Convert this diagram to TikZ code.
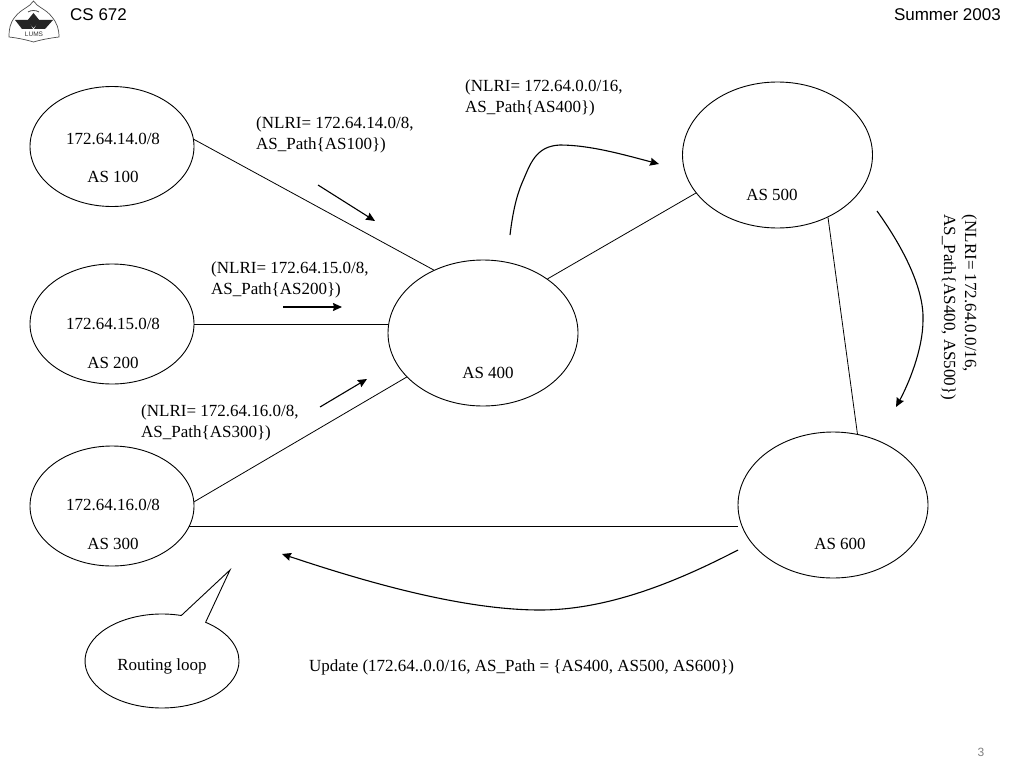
\documentclass[tikz,border=0pt]{standalone}
\usepackage{fontspec}
\setmainfont{Liberation Serif}
\setsansfont{Liberation Sans}
\usetikzlibrary{arrows.meta,shapes.geometric,shapes.callouts}
\tikzset{
  asbig/.style={draw,ellipse,line width=0.9pt,inner sep=0pt,minimum width=190pt,minimum height=146pt},
  assmall/.style={draw,ellipse,line width=0.9pt,inner sep=0pt,minimum width=164pt,minimum height=120pt},
  link/.style={line width=0.8pt},
  flow/.style={line width=1.1pt,-{Stealth[length=9pt,width=8pt,inset=1pt]}},
  msg/.style={align=left,anchor=north west,inner sep=0pt,font=\fontsize{17}{21}\selectfont},
  lbl/.style={inner sep=0pt,font=\fontsize{17}{19}\selectfont},
  head/.style={inner sep=0pt,font=\sffamily\fontsize{17}{19}\selectfont},
}
\begin{document}
\begin{tikzpicture}[x=1pt,y=-1pt]
\useasboundingbox (0,0) rectangle (1024,768);
% header
\draw[black!70,line width=0.7pt] (33.5,1) .. controls (30,7) and (21,9) .. (15,17) .. controls (10,23) and (9,29) .. (9,37) .. controls (18,38) and (27,40) .. (33.5,42) .. controls (40,40) and (50,38) .. (59,37) .. controls (59,29) and (57,23) .. (52,17) .. controls (46,9) and (37,7) .. (33.5,1) -- cycle;
\fill[black!85] (15,20) -- (28,20) -- (33,29) -- (22,29) -- cycle;
\fill[black!85] (53,20) -- (39,20) -- (34,29) -- (45,29) -- cycle;
\fill[black!85] (33.5,13) -- (40,21) -- (33.5,28) -- (27,21) -- cycle;
\draw[black!70,line width=0.8pt] (28,12) .. controls (31,10) and (36,10) .. (39,12);
\node[inner sep=0pt,text=black!80,font=\sffamily\fontsize{6.5}{7}\selectfont] (logotxt) at (34,34.5) {LUMS};
\node[head,anchor=west] (course) at (70,15) {CS 672};
\node[head,anchor=east] (term) at (1001,15) {Summer 2003};
\node[inner sep=0pt,text=black!50,font=\sffamily\fontsize{12}{14}\selectfont] (page) at (981,752) {3};
% autonomous systems
\node[assmall] (as100) at (112,146.5) {};
\node[assmall] (as200) at (112,324) {};
\node[assmall] (as300) at (112,506) {};
\node[asbig] (as400) at (483,333) {};
\node[asbig] (as500) at (777.5,155) {};
\node[asbig] (as600) at (833,505) {};
\node[lbl] (net100) at (113,138.5) {172.64.14.0/8};
\node[lbl] (name100) at (113,176.5) {AS 100};
\node[lbl] (net200) at (113,323.5) {172.64.15.0/8};
\node[lbl] (name200) at (113,362.5) {AS 200};
\node[lbl] (net300) at (113,505) {172.64.16.0/8};
\node[lbl] (name300) at (113,543.5) {AS 300};
\node[lbl] (name400) at (488,372.5) {AS 400};
\node[lbl] (name500) at (772,195) {AS 500};
\node[lbl] (name600) at (840,543.5) {AS 600};
% links
\draw[link] (as100.5) -- (as400.128);
\draw[link] (as200.east) -- (as200.east -| as400.west);
\draw[link] (as300.3) -- (as400.210);
\draw[link] (as400.40) -- (as500.205);
\draw[link] (as500.-51) -- (as600.71);
\draw[link] (as300.-15) -- (as300.-15 -| as600.west);
% updates
\coordinate (a1s) at (318,185);
\coordinate (a1e) at (375,221);
\coordinate (a2s) at (283,307);
\coordinate (a2e) at (342,307);
\coordinate (a3s) at (320,407);
\coordinate (a3e) at (367,379);
\coordinate (a4s) at (510,235);
\coordinate (a4e) at (659,164);
\coordinate (a5s) at (877,211);
\coordinate (a5e) at (896,407);
\coordinate (a6s) at (738,550);
\coordinate (a6e) at (282,554);
\draw[flow] (a1s) -- (a1e);
\draw[flow] (a2s) -- (a2e);
\draw[flow] (a3s) -- (a3e);
\draw[flow] (a4s) .. controls (513,210) and (517,195) .. (522,183) .. controls (530,165) and (535,146) .. (560,145) .. controls (590,145) and (625,155) .. (a4e);
\draw[flow] (a5s) .. controls (905,250) and (924,290) .. (923,320) .. controls (923,350) and (908,385) .. (a5e);
\draw[flow] (a6s) .. controls (680,580) and (610,610) .. (540,610) .. controls (460,610) and (360,580) .. (a6e);
\node[msg] (msg100) at (256,116.5) {(NLRI= 172.64.14.0/8,\\AS\_Path\{AS100\})};
\node[msg] (msg200) at (211,261.5) {(NLRI= 172.64.15.0/8,\\AS\_Path\{AS200\})};
\node[msg] (msg300) at (141,404) {(NLRI= 172.64.16.0/8,\\AS\_Path\{AS300\})};
\node[msg] (msg400) at (465,80) {(NLRI= 172.64.0.0/16,\\AS\_Path\{AS400\})};
\node[msg,rotate=-90] (msg500) at (977,214.5) {(NLRI= 172.64.0.0/16,\\AS\_Path\{AS400, AS500\})};
\node[lbl,anchor=west] (update) at (309,667) {Update (172.64..0.0/16, AS\_Path = \{AS400, AS500, AS600\})};
% routing loop
\node[draw,ellipse callout,line width=0.9pt,inner sep=0pt,minimum width=154pt,minimum height=94pt,callout absolute pointer={(230,570)},callout pointer arc=20] (loop) at (162,661) {};
\node[lbl] (looptxt) at (162,666) {Routing loop};
\end{tikzpicture}
\end{document}
